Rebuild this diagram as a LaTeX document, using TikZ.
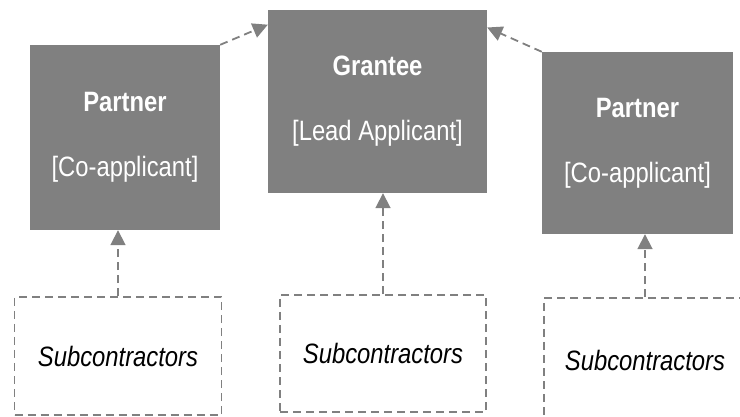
\documentclass[tikz,border=0pt]{standalone}
\usepackage{fontspec}
\setmainfont[FakeStretch=0.85]{Liberation Sans}
\usetikzlibrary{arrows.meta}

\begin{document}
\begin{tikzpicture}
    [
        x=1pt, y=-1pt,
        party/.style={rectangle, fill=boxgray, text=white, align=center,
            inner sep=0pt, font=\fontsize{28}{65}\selectfont},
        sub/.style={rectangle, draw=boxgray, line width=1.8pt,
            dash pattern=on 8pt off 5pt, inner sep=0pt,
            font=\fontsize{28}{32}\selectfont\itshape},
        edge/.style={-{Triangle[length=15pt,width=15pt]}, draw=boxgray,
            line width=1.8pt, dash pattern=on 8pt off 5pt},
    ]
    \definecolor{boxgray}{RGB}{128,128,128}

    \useasboundingbox (0,0) rectangle (740,417);
    \clip (0,0) rectangle (740,417);

    % grant parties
    \node (p1) at (125,137.5)  [party, minimum width=190pt, minimum height=185pt]
        {\textbf{Partner}\\ {[Co-applicant]}};
    \node (g)  at (377.5,101.5) [party, minimum width=219pt, minimum height=183pt]
        {\textbf{Grantee}\\ {[Lead Applicant]}};
    \node (p2) at (637.5,143)  [party, minimum width=191pt, minimum height=182pt]
        {\textbf{Partner}\\ {[Co-applicant]}};

    % subcontractors
    \node (s1) at (118,356)    [sub, minimum width=207pt, minimum height=118pt] {Subcontractors};
    \node (s2) at (383,353.5)  [sub, minimum width=206pt, minimum height=117pt] {Subcontractors};
    \node (s3) at (645,360)    [sub, minimum width=202pt, minimum height=124pt] {Subcontractors};

    \draw [edge] (p1.north east) -- (g.145);
    \draw [edge] (p2.north west) -- (g.34);
    \draw [edge] (s1.north) -- (s1.north |- p1.south);
    \draw [edge] (s2.north) -- (s2.north |- g.south);
    \draw [edge] (s3.north) -- (s3.north |- p2.south);

\end{tikzpicture}
\end{document}
